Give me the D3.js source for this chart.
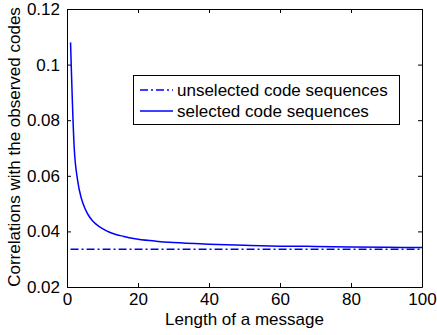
<!DOCTYPE html>
<html>
<head>
<meta charset="utf-8">
<script src="https://cdn.jsdelivr.net/npm/d3@7"></script>
<style>
  body { margin: 0; background: #fff; }
  text { font-family: "Liberation Sans", Arial, sans-serif; fill: #000; }
</style>
</head>
<body>
<div id="chart"></div>
<script>
// message lengths and correlation values
const lengths = [1, 2, 3, 4, 5, 6, 7, 8, 9, 10, 12, 14, 16, 18, 20, 25, 30, 40, 50, 60, 70, 80, 90, 100];
const selected = [0.1080, 0.0708, 0.0583, 0.0521, 0.0484, 0.0459, 0.0441, 0.0428, 0.0418, 0.0410,
                  0.0397, 0.0388, 0.0382, 0.0376, 0.0372, 0.0365, 0.0360, 0.0354, 0.0350, 0.0347,
                  0.0346, 0.0344, 0.0343, 0.0342];
const unselected = [0.0336, 0.0336];
const unselectedLengths = [1, 100];
const xTicks = [0, 20, 40, 60, 80, 100];
const yTicks = [0.02, 0.04, 0.06, 0.08, 0.1, 0.12];
const legendLabels = ["unselected code sequences", "selected code sequences"];

const width = 437;
const height = 335;
const margin = {top: 9, right: 15, bottom: 48, left: 67};
const fontSize = 17;

const svg = d3.select("#chart").append("svg")
    .attr("width", width)
    .attr("height", height);

const x = d3.scaleLinear().domain([0, 100]).range([margin.left, width - margin.right]);
const y = d3.scaleLinear().domain([0.02, 0.12]).range([height - margin.bottom, margin.top]);

// axes, ticks pointing inward, box all round
const tickLen = 4;
svg.append("g")
    .attr("transform", `translate(0,${height - margin.bottom})`)
    .call(d3.axisBottom(x).tickValues(xTicks).tickSizeInner(-tickLen).tickSizeOuter(0).tickPadding(6).tickFormat(d3.format("d")))
    .call(g => g.selectAll("text").attr("font-size", fontSize));
svg.append("g")
    .attr("transform", `translate(0,${margin.top})`)
    .call(d3.axisTop(x).tickValues(xTicks).tickSizeInner(-tickLen).tickSizeOuter(0).tickFormat(""));
svg.append("g")
    .attr("transform", `translate(${margin.left},0)`)
    .call(d3.axisLeft(y).tickValues(yTicks).tickSizeInner(-tickLen).tickSizeOuter(0).tickPadding(7).tickFormat(d => d3.format("")(+d.toFixed(2))))
    .call(g => g.selectAll("text").attr("font-size", fontSize));
svg.append("g")
    .attr("transform", `translate(${width - margin.right},0)`)
    .call(d3.axisRight(y).tickValues(yTicks).tickSizeInner(-tickLen).tickSizeOuter(0).tickFormat(""));

svg.selectAll(".domain").attr("stroke", "#000");
svg.selectAll(".tick line").attr("stroke", "#000");
svg.selectAll("g text").attr("font-family", null);

const line = d3.line().x(d => x(d[0])).y(d => y(d[1])).curve(d3.curveMonotoneX);

svg.append("path")
    .datum(d3.zip(unselectedLengths, unselected))
    .attr("fill", "none")
    .attr("stroke", "#0000ff")
    .attr("stroke-width", 1.5)
    .attr("stroke-dasharray", "8,3,2,3")
    .attr("d", line);

svg.append("path")
    .datum(d3.zip(lengths, selected))
    .attr("fill", "none")
    .attr("stroke", "#0000ff")
    .attr("stroke-width", 1.5)
    .attr("d", line);

// axis labels
svg.append("text")
    .attr("x", (margin.left + width - margin.right) / 2)
    .attr("y", 325)
    .attr("text-anchor", "middle")
    .attr("font-size", fontSize)
    .text("Length of a message");

svg.append("text")
    .attr("transform", `translate(20,${(margin.top + height - margin.bottom) / 2 - 1}) rotate(-90)`)
    .attr("text-anchor", "middle")
    .attr("font-size", fontSize)
    .text("Correlations with the observed codes");

// legend
const legend = svg.append("g");
legend.append("rect")
    .attr("x", 133.5).attr("y", 75.5)
    .attr("width", 266).attr("height", 49)
    .attr("fill", "#fff").attr("stroke", "#000");
const dashes = ["8,3,2,3", null];
legendLabels.forEach((lab, i) => {
  const yy = 90 + i * 21;
  legend.append("line")
      .attr("x1", 140).attr("x2", 173)
      .attr("y1", yy).attr("y2", yy)
      .attr("stroke", "#0000ff").attr("stroke-width", 1.5)
      .attr("stroke-dasharray", dashes[i]);
  legend.append("text")
      .attr("x", 177).attr("y", yy + 6)
      .attr("font-size", fontSize)
      .text(lab);
});
</script>
</body>
</html>
